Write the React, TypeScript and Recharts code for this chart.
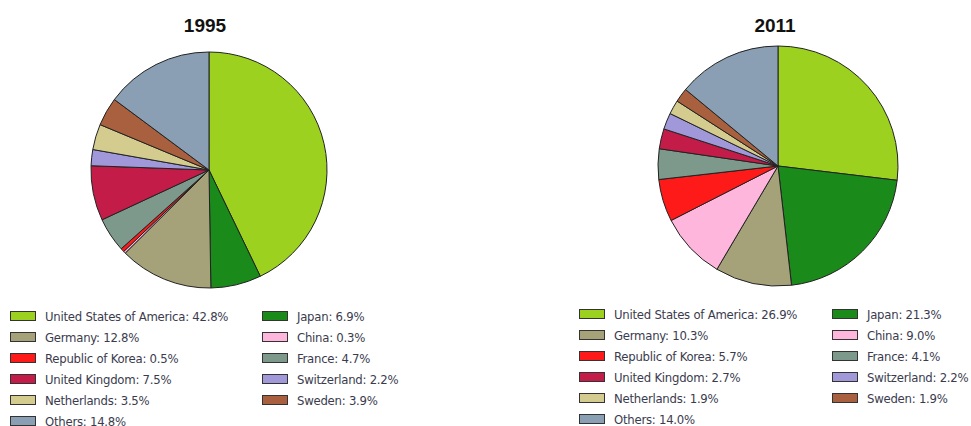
import React from 'react';
import { PieChart, Pie, Cell } from 'recharts';

const countries = [
  'United States of America',
  'Japan',
  'Germany',
  'China',
  'Republic of Korea',
  'France',
  'United Kingdom',
  'Switzerland',
  'Netherlands',
  'Sweden',
  'Others',
];

const colors = [
  '#9cd21f',
  '#1a8a1a',
  '#a5a27a',
  '#ffb6dc',
  '#ff1a1a',
  '#7d998b',
  '#c41c48',
  '#a098d8',
  '#d3cc8e',
  '#a9603f',
  '#8a9fb3',
];

const values1995 = [42.8, 6.9, 12.8, 0.3, 0.5, 4.7, 7.5, 2.2, 3.5, 3.9, 14.8];
const values2011 = [26.9, 21.3, 10.3, 9.0, 5.7, 4.1, 2.7, 2.2, 1.9, 1.9, 14.0];

const legendFont = '"DejaVu Sans Condensed", "DejaVu Sans", sans-serif';

interface YearPieProps {
  title: string;
  values: number[];
  left: number;
  cx: number;
  cy: number;
  r: number;
  titleX: number;
  legendX: number;
  legendY: number;
  col2X: number;
}

const YearPie: React.FC<YearPieProps> = ({ title, values, left, cx, cy, r, titleX, legendX, legendY, col2X }) => {
  const data = countries.map((name, i) => ({ name, value: values[i] }));
  return (
    <div style={{ position: 'absolute', left, top: 0, width: 420, height: 426 }}>
      <PieChart width={420} height={300} margin={{ top: 0, right: 0, bottom: 0, left: 0 }}>
        <text
          x={titleX}
          y={32}
          textAnchor="middle"
          fontFamily="'Liberation Sans', Arial, sans-serif"
          fontWeight="bold"
          fontSize={19}
          fill="#111"
        >
          {title}
        </text>
        <Pie
          data={data}
          dataKey="value"
          nameKey="name"
          cx={cx}
          cy={cy}
          outerRadius={r}
          startAngle={90}
          endAngle={-270}
          stroke="#222"
          strokeWidth={1}
          isAnimationActive={false}
        >
          {data.map((d, i) => (
            <Cell key={d.name} fill={colors[i]} />
          ))}
        </Pie>
      </PieChart>
      {data.map((d, i) => {
        const row = Math.floor(i / 2);
        const x = i % 2 === 0 ? legendX : col2X;
        const y = legendY + row * 21;
        return (
          <div
            key={d.name}
            style={{
              position: 'absolute',
              left: x,
              top: y - 10,
              height: 20,
              display: 'flex',
              alignItems: 'center',
              whiteSpace: 'nowrap',
            }}
          >
            <span
              style={{
                display: 'inline-block',
                width: 24,
                height: 8,
                background: colors[i],
                border: '1.5px solid #333',
                marginRight: 9,
              }}
            />
            <span style={{ fontFamily: legendFont, fontSize: 13, letterSpacing: -0.25, color: '#3b3b4e' }}>
              {d.name}: {d.value.toFixed(1)}%
            </span>
          </div>
        );
      })}
    </div>
  );
};

export default function App() {
  return (
    <div style={{ position: 'absolute', left: 0, top: 0, width: 971, height: 426, background: '#fff', overflow: 'hidden' }}>
      <YearPie
        title="1995"
        values={values1995}
        left={0}
        cx={209}
        cy={170}
        r={118}
        titleX={205}
        legendX={10}
        legendY={316}
        col2X={262}
      />
      <YearPie
        title="2011"
        values={values2011}
        left={551}
        cx={227}
        cy={166}
        r={120}
        titleX={224}
        legendX={28}
        legendY={314}
        col2X={281}
      />
    </div>
  );
}
